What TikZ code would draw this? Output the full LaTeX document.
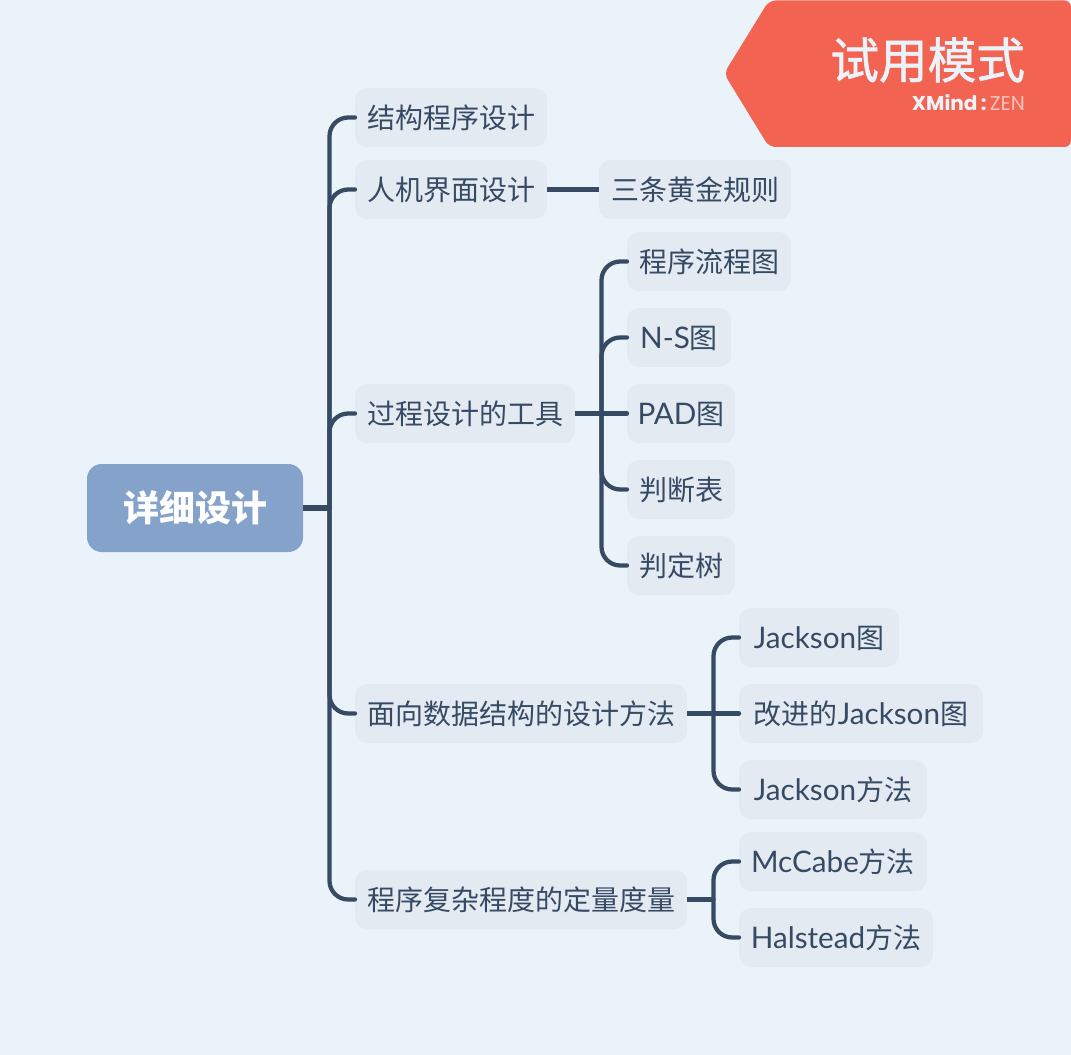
\documentclass[tikz,border=0pt]{standalone}
\usepackage{fontspec}
\setmainfont{Noto Sans CJK SC}
\newfontfamily\latinfont[Scale=1.06]{Lato}
\newfontfamily\brandfont{Poppins}
\newfontfamily\tagfont[FakeBold=1.2]{Noto Sans CJK SC}
\newcommand{\lat}[1]{{\latinfont #1}}
\definecolor{pagebg}{HTML}{EBF3FA}
\definecolor{boxfill}{HTML}{E4EAF2}
\definecolor{rootfill}{HTML}{85A2CB}
\definecolor{inkblue}{HTML}{374A64}
\definecolor{tagred}{HTML}{F26451}
\definecolor{tagpale}{HTML}{F9C4BC}
\tikzset{every picture/.style={line width=0.75pt}}
\tikzset{
  topicbox/.style={anchor=north west,fill=boxfill,rounded corners=9,outer sep=0pt,minimum height=59*0.75pt,inner sep=0pt,text height=19pt,text depth=2pt,text=inkblue,font=\fontsize{21}{25}\selectfont},
  rootbox/.style={anchor=north west,fill=rootfill,rounded corners=11,outer sep=0pt,minimum height=88*0.75pt,minimum width=216*0.75pt,inner sep=0pt,text=white,font=\fontsize{27}{32}\selectfont\bfseries},
  branch/.style={draw=inkblue,line width=3.2pt,rounded corners=14,line cap=round},
  stem/.style={draw=inkblue,line width=3.8pt},
}

\begin{document}
\begin{tikzpicture}[x=0.75pt,y=0.75pt,yscale=-1,xscale=1]
\fill [pagebg] (0,0) rectangle (1071,1055);
\useasboundingbox (0,0) rectangle (1071,1055);

%Shape: Tag
\fill [tagred,rounded corners=5] (769,0.5) -- (1071,0.5) -- (1071,147) -- (769,147) -- (724,73.5) -- cycle ;

% Text Node
\node [anchor=east,inner sep=0pt,outer sep=0pt,text=pagebg,font=\fontsize{36.5}{40}\tagfont] (tagtitle) at (1025,60) {试用模式};
% Text Node
\node [anchor=east,inner sep=0pt,outer sep=0pt,text=pagebg,font=\fontsize{15}{16}\brandfont] (tagbrand) at (1025,103) {\textbf{XMind}\,\textbf{:}\,\textcolor{tagpale}{ZEN}};

% Root
\node [rootbox] (root) at (87,464) {详细设计};

% Level one
\node [topicbox,minimum width=192*0.75pt] (struct) at (355,88) {结构程序设计};
\node [topicbox,minimum width=192*0.75pt] (face) at (355,160) {人机界面设计};
\node [topicbox,minimum width=220*0.75pt] (tools) at (355,384) {过程设计的工具};
\node [topicbox,minimum width=332*0.75pt] (dataway) at (355,684) {面向数据结构的设计方法};
\node [topicbox,minimum width=332*0.75pt] (measure) at (355,870) {程序复杂程度的定量度量};

% Level two
\node [topicbox,minimum width=192*0.75pt] (rules) at (599,160) {三条黄金规则};
\node [topicbox,minimum width=164*0.75pt] (flow) at (627,232) {程序流程图};
\node [topicbox,minimum width=104*0.75pt] (ns) at (627,308) {\lat{N-S}图};
\node [topicbox,minimum width=108*0.75pt] (pad) at (627,384) {\lat{PAD}图};
\node [topicbox,minimum width=108*0.75pt] (table) at (627,460) {判断表};
\node [topicbox,minimum width=108*0.75pt] (tree) at (627,536) {判定树};
\node [topicbox,minimum width=160*0.75pt] (jchart) at (739,608) {\lat{Jackson}图};
\node [topicbox,minimum width=244*0.75pt] (jbetter) at (739,684) {改进的\lat{Jackson}图};
\node [topicbox,minimum width=188*0.75pt] (jway) at (739,760) {\lat{Jackson}方法};
\node [topicbox,minimum width=188*0.75pt] (mccabe) at (739,832) {\lat{McCabe}方法};
\node [topicbox,minimum width=194*0.75pt] (halstead) at (739,908) {\lat{Halstead}方法};

% Forks
\coordinate (rootfork) at (329.5,508);
\coordinate (toolfork) at (601.5,413.5);
\coordinate (datafork) at (713.5,713.5);
\coordinate (measurefork) at (713.5,899.5);

%Straight Lines
\draw [stem] (root.east) -- (rootfork);
\draw [stem] (tools.east) -- (toolfork);
\draw [stem] (dataway.east) -- (datafork);
\draw [stem] (measure.east) -- (measurefork);
\draw [stem] (face.east) -- (rules.west);

%Curve Lines
\draw [branch] (rootfork) |- (struct.west);
\draw [branch] (rootfork) |- (face.west);
\draw [branch] (rootfork) |- (tools.west);
\draw [branch] (rootfork) |- (dataway.west);
\draw [branch] (rootfork) |- (measure.west);
\draw [branch] (toolfork) |- (flow.west);
\draw [branch] (toolfork) |- (ns.west);
\draw [branch] (toolfork) -- (pad.west);
\draw [branch] (toolfork) |- (table.west);
\draw [branch] (toolfork) |- (tree.west);
\draw [branch] (datafork) |- (jchart.west);
\draw [branch] (datafork) -- (jbetter.west);
\draw [branch] (datafork) |- (jway.west);
\draw [branch] (measurefork) |- (mccabe.west);
\draw [branch] (measurefork) |- (halstead.west);

\end{tikzpicture}
\end{document}
